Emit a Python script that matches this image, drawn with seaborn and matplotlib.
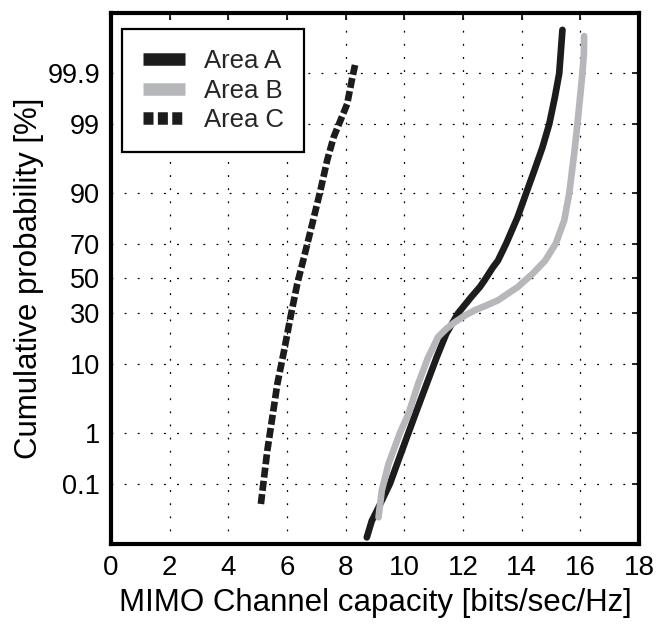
import numpy as np
import pandas as pd
import matplotlib
matplotlib.use("Agg")
import matplotlib.pyplot as plt
import seaborn as sns
from statistics import NormalDist

# Empirical CDFs of MIMO channel capacity (bits/sec/Hz) vs cumulative probability (%)
area_a_capacity = [8.72, 8.89, 9.12, 9.51, 9.80, 10.14, 10.42, 10.76, 11.10, 11.43,
                   11.83, 12.28, 12.57, 12.73, 13.02, 13.19, 13.47, 13.86, 14.15, 14.43,
                   14.71, 14.94, 15.13, 15.28, 15.33, 15.39]
area_a_prob = [0.0048, 0.013, 0.028, 0.1, 0.31, 1.0, 2.33, 5.6, 11.7, 20.3,
               30.0, 39.0, 44.8, 48.8, 56.7, 60.6, 70.0, 82.2, 90.0, 94.8,
               97.6, 99.0, 99.68, 99.9, 99.965, 99.991]

area_b_capacity = [9.12, 9.23, 9.46, 9.85, 10.14, 10.47, 10.81, 11.15, 11.43, 11.72,
                   12.06, 12.40, 12.79, 13.19, 13.86, 14.37, 14.80, 15.16, 15.45, 15.62,
                   15.79, 15.90, 15.99, 16.07, 16.12, 16.13]
area_b_prob = [0.016, 0.069, 0.26, 1.0, 2.07, 5.6, 11.7, 18.9, 22.4, 25.5,
               28.8, 31.6, 34.2, 37.1, 44.8, 52.8, 60.6, 70.0, 80.9, 90.0,
               97.0, 99.0, 99.68, 99.9, 99.965, 99.987]

area_c_capacity = [5.11, 5.22, 5.33, 5.50, 5.67, 5.90, 6.12, 6.35, 6.58, 6.86,
                   7.14, 7.37, 7.59, 7.82, 8.05, 8.21, 8.33]
area_c_prob = [0.034, 0.139, 0.48, 1.83, 5.59, 13.8, 28.1, 46.8, 62.6, 79.4,
               90.8, 96.25, 98.34, 99.13, 99.57, 99.86, 99.94]

area_names = ["Area A", "Area B", "Area C"]
prob_ticks = [0.1, 1, 10, 30, 50, 70, 90, 99, 99.9]
prob_tick_labels = ["0.1", "1", "10", "30", "50", "70", "90", "99", "99.9"]
capacity_ticks = list(range(0, 19, 2))

df = pd.concat([
    pd.DataFrame({"capacity": area_a_capacity, "prob": area_a_prob, "area": "Area A"}),
    pd.DataFrame({"capacity": area_b_capacity, "prob": area_b_prob, "area": "Area B"}),
    pd.DataFrame({"capacity": area_c_capacity, "prob": area_c_prob, "area": "Area C"}),
], ignore_index=True)

sns.set_theme(style="white")
plt.rcParams["font.family"] = ["Liberation Sans", "DejaVu Sans"]

# Normal-probability (probit) scale for the y axis, in percent
_nd = NormalDist()
_ppf = np.vectorize(_nd.inv_cdf, otypes=[float])
_cdf = np.vectorize(_nd.cdf, otypes=[float])


def prob_forward(p):
    p = np.clip(np.asarray(p, dtype=float) / 100.0, 1e-12, 1 - 1e-12)
    return _ppf(p)


def prob_inverse(z):
    return 100.0 * _cdf(np.asarray(z, dtype=float))


fig = plt.figure(figsize=(6.56, 6.27), dpi=100)
ax = fig.add_axes([0.1692, 0.1324, 0.8049, 0.8469])
ax.set_yscale("function", functions=(prob_forward, prob_inverse))

palette = {"Area A": "#1c1c1c", "Area B": "#b6b7ba", "Area C": "#1c1c1c"}
dashes = {"Area A": "", "Area B": "", "Area C": (1.5, 0.5)}

sns.lineplot(data=df, x="capacity", y="prob", hue="area", style="area",
             hue_order=area_names, style_order=area_names,
             palette=palette, dashes=dashes, sort=False, estimator=None,
             linewidth=4.8, ax=ax)
for ln in ax.get_lines():
    ln.set_solid_joinstyle("round")
    ln.set_dash_joinstyle("round")

ax.set_xlim(0, 18)
ax.set_ylim(prob_inverse(-4.0), prob_inverse(4.0))
ax.set_xticks(capacity_ticks)
ax.set_xticklabels([str(t) for t in capacity_ticks])
ax.set_yticks(prob_ticks)
ax.set_yticklabels(prob_tick_labels)
ax.minorticks_off()

ax.grid(True, color="black", linestyle=(0, (1.5, 9)), linewidth=0.9)
ax.tick_params(direction="in", length=5, width=1.2, colors="black",
               top=True, right=True)
ax.tick_params(axis="x", labelsize=20, pad=8)
ax.tick_params(axis="y", labelsize=19.5, pad=8)
for sp in ax.spines.values():
    sp.set_visible(True)
    sp.set_color("black")
    sp.set_linewidth(3)

ax.set_xlabel("MIMO Channel capacity [bits/sec/Hz]", fontsize=22.5, color="black", labelpad=5)
ax.set_ylabel("Cumulative probability [%]", fontsize=22.5, color="black", labelpad=2)

handles, labels = ax.get_legend_handles_labels()
old = ax.get_legend()
if old is not None:
    old.remove()
leg = ax.legend(handles, labels, loc="upper left", bbox_to_anchor=(0.021, 0.970),
                borderaxespad=0, frameon=True, fancybox=False, framealpha=1,
                edgecolor="black", fontsize=18.5, handlelength=1.65, handletextpad=0.72,
                labelspacing=0.2, borderpad=0.8)
leg.get_frame().set_linewidth(1.6)
for h in leg.get_lines():
    h.set_linewidth(9)
    h.set_solid_capstyle("butt")
    h.set_dash_capstyle("butt")
leg.get_lines()[2].set_linestyle((0, (0.8, 0.35)))

fig.savefig("out.png", dpi=100)
